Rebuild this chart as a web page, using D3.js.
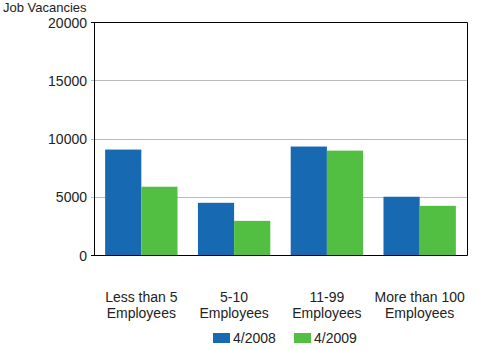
<!DOCTYPE html>
<html><head><meta charset="utf-8">
<script src="https://cdn.jsdelivr.net/npm/d3@7"></script>
<style>body{margin:0;background:#fff}svg{display:block;font-family:"Liberation Sans",Arial,sans-serif}</style>
</head><body>
<div id="chart"></div>
<script>
const categories = [["Less than 5","Employees"],["5-10","Employees"],["11-99","Employees"],["More than 100","Employees"]];
const seriesNames = ["4/2008","4/2009"];
const values2008 = [9050, 4480, 9310, 5000];
const values2009 = [5860, 2930, 8960, 4220];
const yTicks = [0, 5000, 10000, 15000, 20000];
const yTitle = "Job Vacancies";
const colors = ["#1769b1", "#52bf43"];

const W = 500, H = 350;
const m = {left: 94, right: 33, top: 22, bottom: 95};
const svg = d3.select("#chart").append("svg").attr("width", W).attr("height", H);

const idx = d3.range(categories.length);
const x = d3.scaleBand().domain(idx).range([m.left, W - m.right]).paddingInner(0.22).paddingOuter(0.12);
const xs = d3.scaleBand().domain([0,1]).range([0, x.bandwidth()]);
const y = d3.scaleLinear().domain([0, 20000]).range([H - m.bottom, m.top]);

// gridlines
svg.append("g").selectAll("line").data(yTicks.filter(t => t > 0 && t < 20000)).join("line")
  .attr("x1", m.left - 3).attr("x2", W - m.right)
  .attr("y1", d => Math.round(y(d)) + 0.5).attr("y2", d => Math.round(y(d)) + 0.5)
  .attr("stroke", "#bcbcbc").attr("stroke-width", 1);

// bars
const series = [values2008, values2009];
series.forEach((vals, s) => {
  svg.append("g").selectAll("rect").data(vals).join("rect")
    .attr("x", (d, i) => x(i) + xs(s))
    .attr("width", xs.bandwidth())
    .attr("y", d => y(d))
    .attr("height", d => y(0) - y(d))
    .attr("fill", colors[s]);
});

// frame
const L = m.left + 0.5, R = W - m.right + 0.5, T = Math.round(y(20000)) + 0.5, B = Math.round(y(0)) + 0.5;
svg.append("path").attr("d", `M${m.left-3},${T}H${R}V${B}H${m.left-3}M${L},${T}V${B}`)
  .attr("fill", "none").attr("stroke", "#000").attr("stroke-width", 1);

// y axis labels
svg.append("g").selectAll("text").data(yTicks).join("text")
  .attr("x", m.left - 7).attr("y", d => y(d) + 5.5)
  .attr("text-anchor", "end").attr("font-size", 14).attr("fill", "#222").text(d => d);

svg.append("text").attr("x", 3).attr("y", 12).attr("font-size", 13).attr("fill", "#222").text(yTitle);

// category labels
const cat = svg.append("g").selectAll("text").data(categories).join("text")
  .attr("text-anchor", "middle").attr("font-size", 14).attr("fill", "#222");
cat.selectAll("tspan").data((d, i) => d.map(t => ({t, i}))).join("tspan")
  .attr("x", d => x(d.i) + x.bandwidth() / 2)
  .attr("y", (d, j) => 302 + j * 16)
  .text(d => d.t);

// legend
const legX = [213, 294];
seriesNames.forEach((n, s) => {
  svg.append("rect").attr("x", legX[s]).attr("y", 333).attr("width", 17).attr("height", 10).attr("fill", colors[s]);
  svg.append("text").attr("x", legX[s] + 20).attr("y", 343).attr("font-size", 14).attr("fill", "#222").text(n);
});
</script>
</body></html>
